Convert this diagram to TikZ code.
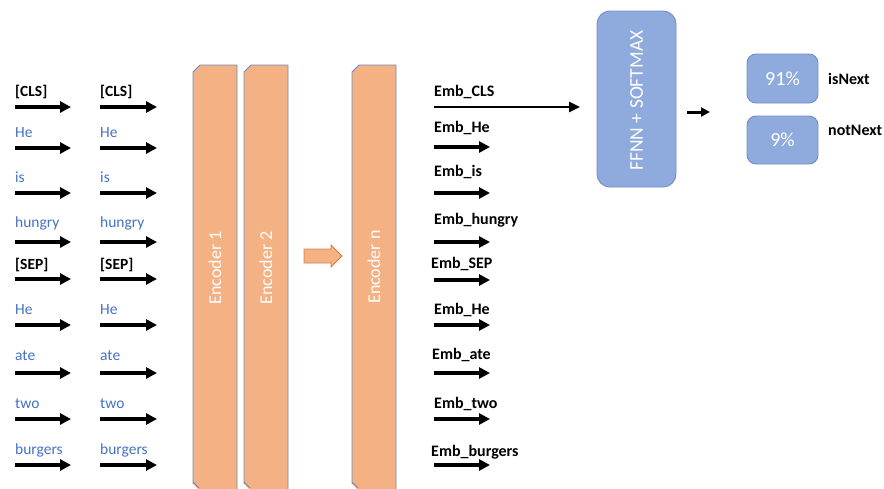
\documentclass[tikz,border=0pt]{standalone}
\usepackage{fontspec}
\setmainfont{Carlito}
\usetikzlibrary{arrows.meta}
\definecolor{tokblue}{HTML}{4472C4}
\definecolor{encfill}{HTML}{F4B183}
\definecolor{encborder}{RGB}{112,138,186}
\definecolor{ffnnfill}{HTML}{8FAADC}
\definecolor{ffnnborder}{RGB}{112,143,200}
\definecolor{blkborder}{RGB}{214,128,72}
\tikzset{
  tok/.style={anchor=west, text=tokblue, font=\fontsize{15.5}{18}\selectfont, inner sep=0pt},
  tokb/.style={tok, text=black, font=\bfseries\fontsize{15.5}{18}\selectfont},
  arr/.style={line width=3.3pt, -{Triangle[length=11pt,width=11pt]}},
  thinarr/.style={line width=2.5pt, -{Triangle[length=11pt,width=10pt]}},
  enc/.style={fill=encfill, draw=encborder, line width=0.9pt},
  enctext/.style={rotate=90, text=white, font=\fontsize{18}{22}\selectfont, inner sep=0pt},
  ffnn/.style={fill=ffnnfill, draw=ffnnborder, line width=0.9pt, rounded corners=13pt},
  pct/.style={text=white, font=\fontsize{20}{24}\selectfont},
  lbl/.style={anchor=west, font=\bfseries\fontsize{16}{19}\selectfont, inner sep=0pt},
}
\begin{document}
\begin{tikzpicture}[x=1pt,y=-1pt]
\useasboundingbox (0,0) rectangle (884,488);
\clip (0,0) rectangle (884,488);

% token columns
\foreach \t/\ty/\ay/\s [count=\i] in {{[CLS]}/92/107/tokb, He/133/148/tok, is/177/193/tok, hungry/223/242/tok, {[SEP]}/265/279/tokb, He/310/325/tok, ate/356/373/tok, two/404/419/tok, burgers/450/465/tok}{
  \node[\s] (ta\i) at (15,\ty) {\t};
  \node[\s] (tb\i) at (100,\ty) {\t};
  \coordinate (aas\i) at (15,\ay);
  \coordinate (aae\i) at (71,\ay);
  \coordinate (abs\i) at (100,\ay);
  \coordinate (abe\i) at (157,\ay);
  \draw[arr] (aas\i) -- (aae\i);
  \draw[arr] (abs\i) -- (abe\i);
}

% encoders
\draw[enc] (193,72) -- (200,65) -- (237,65) -- (237,495) -- (193,495) -- cycle;
\draw[enc] (244,72) -- (251,65) -- (288,65) -- (288,495) -- (244,495) -- cycle;
\draw[enc] (352,72) -- (359,65) -- (396,65) -- (396,495) -- (352,495) -- cycle;
\fill[white] (192,483) -- (200,491) -- (192,491) -- cycle;
\draw[encborder, line width=0.9pt] (193,482) -- (199,488);
\fill[white] (243,483) -- (251,491) -- (243,491) -- cycle;
\draw[encborder, line width=0.9pt] (244,482) -- (250,488);
\fill[white] (351,483) -- (359,491) -- (351,491) -- cycle;
\draw[encborder, line width=0.9pt] (352,482) -- (358,488);
\node[enctext] (e1) at (215,268) {Encoder 1};
\node[enctext] (e2) at (266,268) {Encoder 2};
\node[enctext] (en) at (374,267) {Encoder n};

% block arrow
\draw[fill=encfill, draw=blkborder, line width=0.8pt]
  (304,249) -- (331,249) -- (331,245) -- (342,256) -- (331,267) -- (331,263) -- (304,263) -- cycle;

% embeddings
\foreach \t/\tx/\ty/\ay [count=\i] in {Emb\_CLS/434/92/107, Emb\_He/434/128/147, Emb\_is/434/172/193, Emb\_hungry/434/220/242, Emb\_SEP/431/264/280, Emb\_He/434/310/325, Emb\_ate/432/355/373, Emb\_two/434/404/419, Emb\_burgers/431/452/465}{
  \node[lbl] (em\i) at (\tx,\ty) {\t};
  \coordinate (ems\i) at (434,\ay);
  \coordinate (eme\i) at (490,\ay);
}
\foreach \i in {2,...,9}{\draw[arr] (ems\i) -- (eme\i);}
\coordinate (cle) at (580,107);
\draw[thinarr] (ems1) -- (cle);

% FFNN
\node[ffnn, minimum width=79pt, minimum height=176pt, inner sep=0pt] (ffnn) at (636.5,99) {};
\node[enctext, font=\fontsize{19.5}{23}\selectfont] at (636.5,100.5) {FFNN + SOFTMAX};
\coordinate (fa) at (687,112);
\coordinate (fb) at (710,112);
\draw[line width=3pt, -{Triangle[length=9pt,width=9pt]}] (fa) -- (fb);

% outputs
\node[ffnn, rounded corners=9pt, minimum width=71pt, minimum height=49pt] (p1) at (782.5,78.5) {};
\node[pct] at (p1.center) {91\%};
\node[ffnn, rounded corners=9pt, minimum width=71pt, minimum height=48pt] (p2) at (782.5,140) {};
\node[pct] at (p2.center) {9\%};
\node[lbl] (l1) at (828,79) {isNext};
\node[lbl] (l2) at (828,130) {notNext};
\end{tikzpicture}
\end{document}
